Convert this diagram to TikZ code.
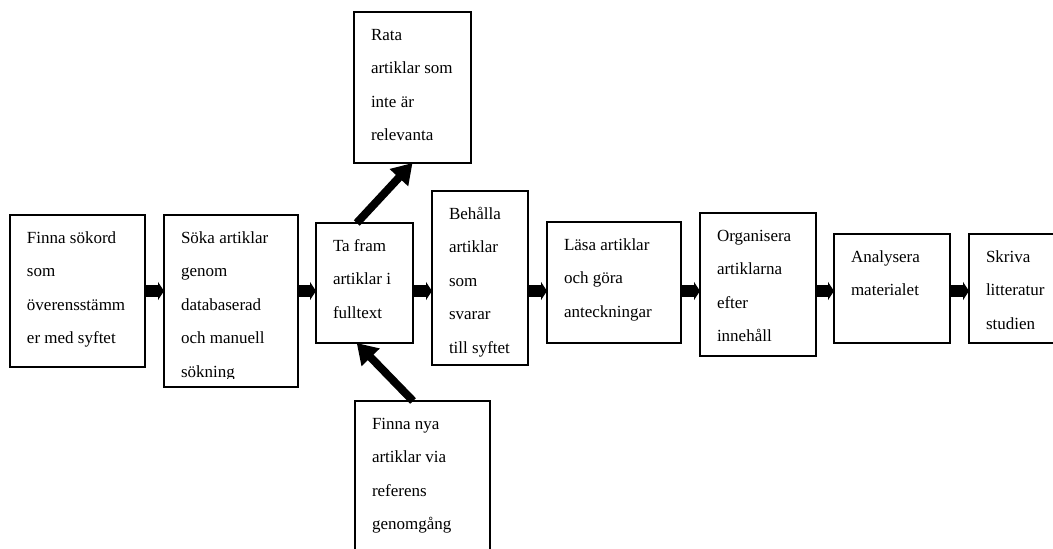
\documentclass[tikz,border=0pt]{standalone}
\usepackage{fontspec}
\setmainfont{Liberation Serif}
\usetikzlibrary{arrows.meta,calc}
\tikzset{
  box/.style={draw, line width=1.6pt, inner sep=0pt, outer sep=0pt, anchor=north west,
    font=\fontsize{17pt}{33.6pt}\selectfont},
  flow/.style={line width=12pt, -{Triangle[width=18pt,length=6pt]}},
  side/.style={line width=8pt, -{Triangle[width=24pt,length=20pt]}},
}
\newcommand{\btext}[3]{\parbox[b][#2][t]{#1}{\raggedright\leftskip=17pt\rule{0pt}{28pt}#3}}
\begin{document}
\begin{tikzpicture}[x=1pt,y=-1pt]
\useasboundingbox (0,0) rectangle (1053,549);
\clip (0,0) rectangle (1053,549);
\coordinate (ay) at (0,291);
\node[box] (b1) at (10,215) {\btext{135pt}{152pt}{Finna sökord\\som\\överensstämm\\er med syftet}};
\node[box, minimum width=134pt, minimum height=172pt] (b2) at (164,215) {};
\begin{scope}
  \clip (150,200) rectangle (310,378);
  \node[box, draw=none] (b2t) at (b2.north west) {\btext{134pt}{172pt}{Söka artiklar\\genom\\databaserad\\och manuell\\sökning}};
\end{scope}
\node[box] (b3) at (316,223) {\btext{97pt}{120pt}{Ta fram\\artiklar i\\fulltext}};
\node[box] (b4) at (432,191) {\btext{96pt}{174pt}{Behålla\\artiklar\\som\\svarar\\till syftet}};
\node[box] (b5) at (547,222) {\btext{134pt}{121pt}{Läsa artiklar\\och göra\\anteckningar}};
\node[box] (b6) at (700,213) {\btext{116pt}{143pt}{Organisera\\artiklarna\\efter\\innehåll}};
\node[box] (b7) at (834,234) {\btext{116pt}{109pt}{Analysera\\materialet}};
\node[box] (b8) at (969,234) {\btext{100pt}{109pt}{Skriva\\litteratur\\studien}};
\node[box] (rata) at (354,12) {\btext{117pt}{151pt}{Rata\\artiklar som\\inte är\\relevanta}};
\node[box] (fn) at (355,401) {\btext{135pt}{170pt}{Finna nya\\artiklar via\\referens\\genomgång}};
\draw[flow] (b1.east |- ay) -- (b2.west |- ay);
\draw[flow] (b2.east |- ay) -- (b3.west |- ay);
\draw[flow] (b3.east |- ay) -- (b4.west |- ay);
\draw[flow] (b4.east |- ay) -- (b5.west |- ay);
\draw[flow] (b5.east |- ay) -- (b6.west |- ay);
\draw[flow] (b6.east |- ay) -- (b7.west |- ay);
\draw[flow] (b7.east |- ay) -- (b8.west |- ay);
\draw[side] ($(b3.north west)!0.42!(b3.north east)$) -- (rata.south);
\draw[side] ($(fn.north west)!0.43!(fn.north east)$) -- ($(b3.south west)!0.42!(b3.south east)$);
\end{tikzpicture}
\end{document}
